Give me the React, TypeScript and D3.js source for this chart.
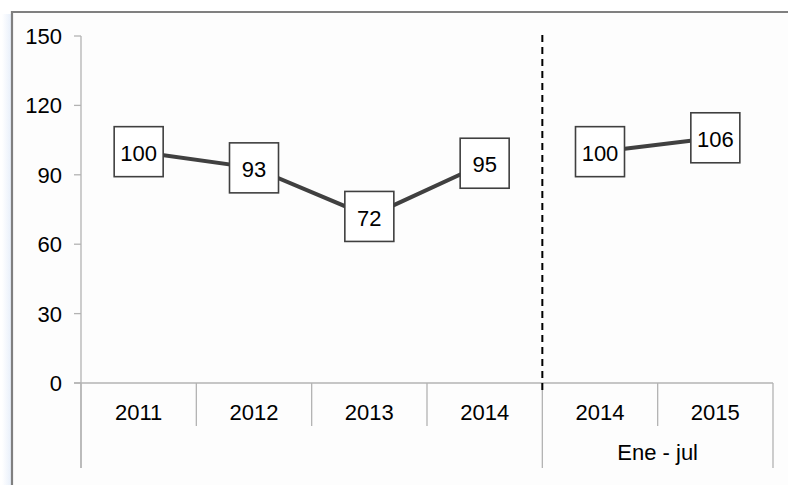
import React from "react";
import * as d3 from "d3";

const categories = ["2011", "2012", "2013", "2014", "2014", "2015"];
const values = [100, 93, 72, 95, 100, 106];
const groupA = [0, 1, 2, 3];
const groupB = [4, 5];
const groupLabel = "Ene - jul";
const yTicks = [0, 30, 60, 90, 120, 150];

const W = 788;
const H = 485;
const FONT = "Liberation Sans, Arial, sans-serif";
const FS = 22;

export default function App() {
  const x = d3.scaleBand<number>().domain(categories.map((_, i) => i)).range([81, 773]).padding(0);
  const y = d3.scaleLinear().domain([0, 150]).range([383, 36]);
  const cx = (i: number) => (x(i) as number) + x.bandwidth() / 2;
  const line = d3
    .line<number>()
    .x((i) => cx(i))
    .y((i) => y(values[i]));
  const splitX = x(4) as number;
  const endX = (x(5) as number) + x.bandwidth();
  const lineColor = "#404040";
  const axisColor = "#b3b3b3";

  return (
    <svg
      width={W}
      height={H}
      style={{ position: "absolute", left: 0, top: 0, display: "block" }}
      fontFamily={FONT}
    >
      <defs>
        <linearGradient id="glow" x1="0" x2="1" y1="0" y2="0">
          <stop offset="0" stopColor="#ffffff" />
          <stop offset="1" stopColor="#e6eefa" />
        </linearGradient>
      </defs>
      <rect x={0} y={0} width={W} height={H} fill="#ffffff" />
      <rect x={2} y={14} width={10} height={H - 14} fill="url(#glow)" />
      <rect x={13} y={13} width={W - 13} height={H - 13} fill="#fdfdfd" />
      <line x1={12} x2={W} y1={12} y2={12} stroke="#808080" strokeWidth={2.2} />
      <line x1={12} x2={12} y1={11} y2={H} stroke="#808080" strokeWidth={2.2} />

      {/* y axis */}
      <line x1={81} x2={81} y1={y(150)} y2={468} stroke={axisColor} strokeWidth={1.3} />
      {yTicks.map((t) => (
        <g key={t}>
          <line x1={74} x2={81} y1={y(t)} y2={y(t)} stroke={axisColor} strokeWidth={1.3} />
          <text x={62} y={y(t)} dy="0.36em" textAnchor="end" fontSize={FS} fill="#000">
            {t}
          </text>
        </g>
      ))}

      {/* x axis */}
      <line x1={74} x2={endX} y1={y(0)} y2={y(0)} stroke={axisColor} strokeWidth={1.3} />
      {categories.map((c, i) => {
        const x0 = x(i) as number;
        const long = i === 0 || i === 4;
        return (
          <g key={i}>
            <line x1={x0} x2={x0} y1={y(0)} y2={long ? 468 : 426} stroke={axisColor} strokeWidth={1.3} />
            <text x={cx(i)} y={420} textAnchor="middle" fontSize={FS} fill="#000">
              {c}
            </text>
          </g>
        );
      })}
      <line x1={endX} x2={endX} y1={y(0)} y2={468} stroke={axisColor} strokeWidth={1.3} />
      <text x={(splitX + endX) / 2} y={460} textAnchor="middle" fontSize={FS} fill="#000">
        {groupLabel}
      </text>

      {/* dashed separator */}
      <line x1={splitX} x2={splitX} y1={35} y2={392} stroke="#000" strokeWidth={2} strokeDasharray="7,5" />

      {/* lines */}
      <path d={line(groupA) || ""} fill="none" stroke={lineColor} strokeWidth={4} />
      <path d={line(groupB) || ""} fill="none" stroke={lineColor} strokeWidth={4} />

      {/* labels */}
      {values.map((v, i) => (
        <g key={i}>
          <rect x={cx(i) - 24.5} y={y(v) - 25} width={49} height={50} fill="#fff" stroke={lineColor} strokeWidth={1.6} />
          <text x={cx(i)} y={y(v)} dy="0.42em" textAnchor="middle" fontSize={FS} fill="#000">
            {v}
          </text>
        </g>
      ))}
    </svg>
  );
}
